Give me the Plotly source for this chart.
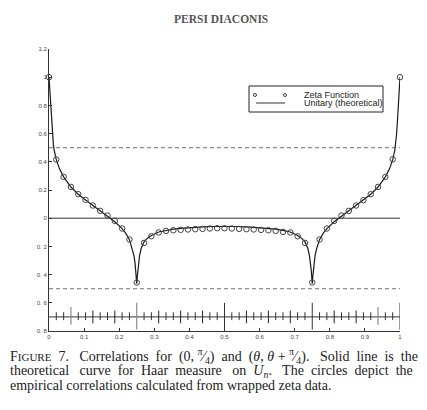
import plotly.graph_objects as go

# ---------------- data ----------------
theory_x = [0, 0.002, 0.004, 0.006, 0.008, 0.010, 0.0125, 0.015, 0.0208, 0.03, 0.0417,
            0.0625, 0.0833, 0.1042, 0.125, 0.1458, 0.1667, 0.1875, 0.2083, 0.219, 0.2292,
            0.2375, 0.242, 0.245, 0.247, 0.2485, 0.25, 0.2515, 0.253, 0.255, 0.258, 0.2625,
            0.2708, 0.2812, 0.2917, 0.3125, 0.3333, 0.3542, 0.375, 0.40, 0.4375, 0.47, 0.5,
            0.53, 0.5625, 0.60, 0.625, 0.6458, 0.6667, 0.6875, 0.7083, 0.7188, 0.7292,
            0.7375, 0.742, 0.745, 0.747, 0.7485, 0.75, 0.7515, 0.753, 0.755, 0.758, 0.7625,
            0.7708, 0.781, 0.7917, 0.8125, 0.8333, 0.8542, 0.875, 0.8958, 0.9167, 0.9375,
            0.9583, 0.97, 0.9792, 0.985, 0.9875, 0.990, 0.992, 0.994, 0.996, 0.998, 1.0]
theory_y = [1.0, 0.92, 0.83, 0.74, 0.66, 0.59, 0.52, 0.48, 0.415, 0.35, 0.293,
            0.221, 0.170, 0.129, 0.090, 0.052, 0.015, -0.025, -0.074, -0.108, -0.152,
            -0.215, -0.265, -0.315, -0.365, -0.415, -0.465, -0.415, -0.365, -0.315, -0.265, -0.215,
            -0.168, -0.140, -0.123, -0.098, -0.086, -0.078, -0.072, -0.067, -0.062, -0.059, -0.058,
            -0.059, -0.062, -0.067, -0.072, -0.078, -0.086, -0.098, -0.123, -0.140, -0.168,
            -0.215, -0.265, -0.315, -0.365, -0.415, -0.465, -0.415, -0.365, -0.315, -0.265, -0.215,
            -0.152, -0.108, -0.074, -0.025, 0.015, 0.052, 0.090, 0.129, 0.170, 0.221,
            0.293, 0.35, 0.415, 0.48, 0.52, 0.59, 0.66, 0.74, 0.83, 0.92, 1.0]

zeta_x = [0, 0.0208, 0.0417, 0.0625, 0.0833, 0.1042, 0.125, 0.1458, 0.1667, 0.1875, 0.2083,
          0.2292, 0.25, 0.2708, 0.2917, 0.3125, 0.3333, 0.3542, 0.375, 0.3958, 0.4167,
          0.4375, 0.4583, 0.4792, 0.5, 0.5208, 0.5417, 0.5625, 0.5833, 0.6042, 0.625,
          0.6458, 0.6667, 0.6875, 0.7083, 0.7292, 0.75, 0.7708, 0.7917, 0.8125, 0.8333,
          0.8542, 0.875, 0.8958, 0.9167, 0.9375, 0.9583, 0.9792, 1.0]
zeta_y = [1.0, 0.416, 0.293, 0.222, 0.171, 0.130, 0.090, 0.052, 0.019, -0.019, -0.073,
          -0.151, -0.456, -0.175, -0.128, -0.101, -0.090, -0.085, -0.083, -0.080, -0.078,
          -0.076, -0.073, -0.071, -0.071, -0.073, -0.076, -0.078, -0.080, -0.083, -0.085,
          -0.090, -0.097, -0.101, -0.128, -0.175, -0.456, -0.151, -0.073, -0.019, 0.019,
          0.052, 0.090, 0.128, 0.170, 0.222, 0.293, 0.418, 1.0]

rug_x = [0.0208, 0.0417, 0.0625, 0.0833, 0.1042, 0.125, 0.1458, 0.1667, 0.1875, 0.2083,
         0.2292, 0.25, 0.2708, 0.2917, 0.3125, 0.3333, 0.3542, 0.375, 0.3958, 0.4167,
         0.4375, 0.4583, 0.4792, 0.5, 0.5208, 0.5417, 0.5625, 0.5833, 0.6042, 0.625,
         0.6458, 0.6667, 0.6875, 0.7083, 0.7292, 0.75, 0.7708, 0.7917, 0.8125, 0.8333,
         0.8542, 0.875, 0.8958, 0.9167, 0.9375, 0.9583, 0.9792, 1.0]
rug_kind = ["s", "s", "g", "s", "s", "m", "s", "s", "m", "s",
            "s", "tg", "s", "s", "m", "s", "s", "m", "s", "s",
            "m", "s", "s", "t", "s", "s", "m", "s", "s", "m",
            "s", "s", "m", "s", "s", "t", "s", "s", "m", "s",
            "s", "m", "s", "s", "g", "s", "s", "t"]
rug_level = -0.7
half_lines = [0.5, -0.5]

y_tickvals = [1.2, 1, 0.8, 0.6, 0.4, 0.2, 0, -0.2, -0.4, -0.6, -0.8]
y_ticktext = ["1.2", "1", "0.8", "0.6", "0.4", "0.2", "0", "0. 2", "0. 4", "0. 6", "0. 8"]
x_tickvals = [0, 0.1, 0.2, 0.3, 0.4, 0.5, 0.6, 0.7, 0.8, 0.9, 1]
x_ticktext = ["0", "0.1", "0.2", "0.3", "0.4", "0.5", "0.6", "0.7", "0.8", "0.9", "1"]

legend_labels = ["Zeta Function", "Unitary (theoretical)"]
header_text = "PERSI DIACONIS"
caption_lines = [
    "F<span style='font-size:11px'>IGURE</span>  7.   Correlations  for  (0, <sup>π</sup>&#8260;<sub>4</sub>)  and  (<i>θ</i>, <i>θ</i> + <sup>π</sup>&#8260;<sub>4</sub>).   Solid  line  is  the",
    "theoretical   curve  for  Haar  measure   on  <i>U<sub>n</sub></i>.   The  circles  depict  the",
    "empirical correlations calculated from wrapped zeta data.",
]

# ---------------- styles ----------------
rug_style = {
    "s": dict(top=-0.667, bot=-0.723, color="#333333", width=1.0),
    "m": dict(top=-0.655, bot=-0.745, color="#222222", width=1.0),
    "g": dict(top=-0.630, bot=-0.755, color="#8a8a8a", width=1.2),
    "t": dict(top=-0.600, bot=-0.790, color="#333333", width=1.0),
    "tg": dict(top=-0.600, bot=-0.790, color="#8a8a8a", width=1.2),
}
caption_size = 14
caption_rows = [356, 371, 386]

fig = go.Figure()

for h in half_lines:
    fig.add_trace(go.Scatter(x=[0, 1], y=[h, h], mode="lines",
                             line=dict(color="#8c8c8c", width=1.2, dash="4px,3px"),
                             hoverinfo="skip", showlegend=False))
fig.add_trace(go.Scatter(x=[0, 1], y=[0, 0], mode="lines",
                         line=dict(color="#333333", width=1),
                         hoverinfo="skip", showlegend=False))
fig.add_trace(go.Scatter(x=[0, 1], y=[rug_level, rug_level], mode="lines",
                         line=dict(color="#333333", width=1),
                         hoverinfo="skip", showlegend=False))
for kind, st in rug_style.items():
    xs, ys = [], []
    for xv, kd in zip(rug_x, rug_kind):
        if kd == kind:
            xs += [xv, xv, None]
            ys += [st["top"], st["bot"], None]
    fig.add_trace(go.Scatter(x=xs, y=ys, mode="lines",
                             line=dict(color=st["color"], width=st["width"]),
                             hoverinfo="skip", showlegend=False, cliponaxis=False))

fig.add_trace(go.Scatter(x=theory_x, y=theory_y, mode="lines",
                         line=dict(color="#1a1a1a", width=1.2),
                         name=legend_labels[1], showlegend=False, cliponaxis=False))
fig.add_trace(go.Scatter(x=zeta_x, y=zeta_y, mode="markers",
                         marker=dict(symbol="circle-open", size=5.5, color="#444444",
                                     line=dict(width=1, color="#444444")),
                         name=legend_labels[0], showlegend=False, cliponaxis=False))


# page pixel -> paper coordinates (plot area spans page px 49..400 and 49..331)
def px2x(px):
    return (px - 49) / 351.0


def px2y(py):
    return (331 - py) / 282.0


shapes = [
    dict(type="rect", xref="paper", yref="paper", x0=px2x(249), x1=px2x(383),
         y0=px2y(112), y1=px2y(86), fillcolor="white",
         line=dict(color="#222222", width=1), layer="above"),
    dict(type="line", xref="paper", yref="paper", x0=px2x(256), x1=px2x(285),
         y0=px2y(103), y1=px2y(103), line=dict(color="#333333", width=1)),
    dict(type="circle", xref="paper", yref="paper", x0=px2x(253.5), x1=px2x(256.5),
         y0=px2y(96.5), y1=px2y(93.5), line=dict(color="#444444", width=1)),
    dict(type="circle", xref="paper", yref="paper", x0=px2x(283.5), x1=px2x(286.5),
         y0=px2y(96.5), y1=px2y(93.5), line=dict(color="#444444", width=1)),
]

annotations = [
    dict(text=legend_labels[0], xref="paper", yref="paper", x=px2x(302), y=px2y(94.5),
         xanchor="left", yanchor="middle", showarrow=False,
         font=dict(family="Liberation Sans", size=9, color="#222222")),
    dict(text=legend_labels[1], xref="paper", yref="paper", x=px2x(302), y=px2y(103),
         xanchor="left", yanchor="middle", showarrow=False,
         font=dict(family="Liberation Sans", size=9, color="#222222")),
    dict(text="<b>" + header_text + "</b>", xref="paper", yref="paper", x=px2x(221), y=px2y(19),
         xanchor="center", yanchor="middle", showarrow=False,
         font=dict(family="Liberation Serif", size=11.5, color="#555555")),
]
for line, ypx in zip(caption_lines, caption_rows):
    annotations.append(dict(text=line, xref="paper", yref="paper", x=px2x(8), y=px2y(ypx),
                            xanchor="left", yanchor="middle", showarrow=False,
                            font=dict(family="Liberation Serif", size=caption_size,
                                      color="#222222")))

# the page body adds an 8px offset; the figure is sized to fill the rest of the window
fig.update_layout(
    width=419, height=402,
    margin=dict(l=41, r=27, t=41, b=79),
    paper_bgcolor="white", plot_bgcolor="white",
    showlegend=False,
    shapes=shapes, annotations=annotations,
    xaxis=dict(range=[0, 1], tickvals=x_tickvals, ticktext=x_ticktext,
               showgrid=False, zeroline=False, showline=True, linecolor="#333333",
               linewidth=1, ticks="inside", ticklen=3, tickcolor="#333333",
               tickfont=dict(family="Liberation Sans", size=6, color="#444444")),
    yaxis=dict(range=[-0.8, 1.2], tickvals=y_tickvals, ticktext=y_ticktext,
               showgrid=False, zeroline=False, showline=True, linecolor="#333333",
               linewidth=1, ticks="inside", ticklen=3, tickcolor="#333333",
               tickfont=dict(family="Liberation Sans", size=6, color="#444444")),
)

fig.write_html("out.html")
